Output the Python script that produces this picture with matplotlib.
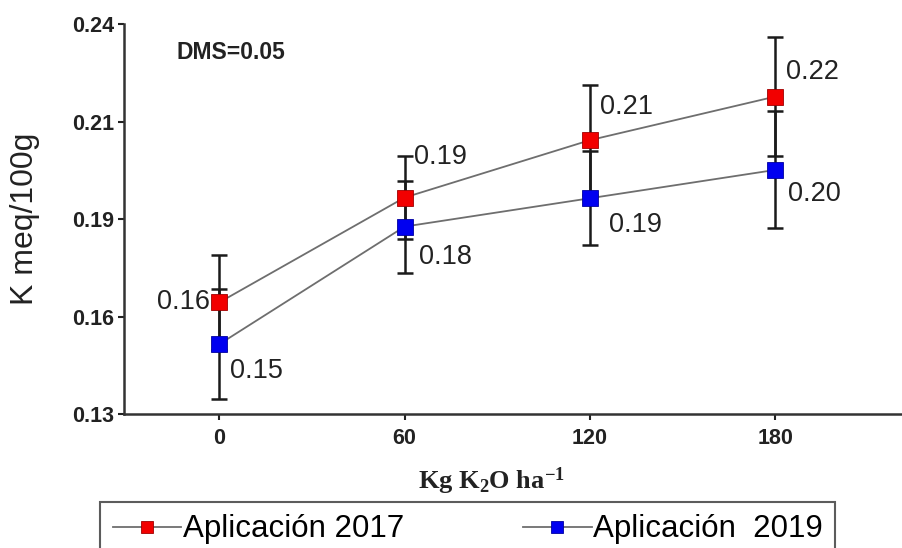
import matplotlib
matplotlib.use("Agg")
import matplotlib.pyplot as plt

# Dose of K2O (kg/ha) and soil potassium (meq/100 g) for each application year
doses = [0, 60, 120, 180]
k_2017 = [0.1615, 0.1911, 0.2073, 0.2196]
err_2017 = [0.0135, 0.0116, 0.0155, 0.0169]
k_2019 = [0.1497, 0.1829, 0.1909, 0.1989]
err_2019 = [0.0155, 0.0130, 0.0133, 0.0165]

series_labels = ["Aplicación 2017", "Aplicación  2019"]
y_ticks = [0.13, 0.1575, 0.185, 0.2125, 0.24]
y_tick_labels = ["0.13", "0.16", "0.19", "0.21", "0.24"]
x_ticks = [0, 60, 120, 180]

# label offsets (points) relative to each marker
off_2017 = [(-7, 0), (7, 29), (7, 24), (8, 18)]
ha_2017 = ["right", "left", "left", "left"]
off_2019 = [(8, -19), (10, -22), (14, -19), (9, -17)]

plt.rcParams["font.family"] = ["Liberation Sans", "DejaVu Sans"]
plt.rcParams["mathtext.fontset"] = "custom"
plt.rcParams["mathtext.rm"] = "Liberation Serif:bold"
plt.rcParams["mathtext.it"] = "Liberation Serif:bold"
plt.rcParams["mathtext.bf"] = "Liberation Serif:bold"

W, H = 902, 548
fig = plt.figure(figsize=(W / 100, H / 100), dpi=100)
ax = fig.add_axes([123.5 / W, 1 - 414 / H, (W - 123.5) / W, (414 - 24.3) / H])

line_col = "#6e6e6e"
red = "#f20000"
blue = "#0000f0"

for vals, errs in ((k_2017, err_2017), (k_2019, err_2019)):
    ax.errorbar(doses, vals, yerr=errs, fmt="none", ecolor="#1a1a1a",
                elinewidth=1.8, capsize=5.5, capthick=1.8, zorder=2)

h1, = ax.plot(doses, k_2017, "-", color=line_col, lw=1.3, marker="s", ms=11,
              mfc=red, mec="#a00000", mew=0.6, zorder=3, label=series_labels[0])
h2, = ax.plot(doses, k_2019, "-", color=line_col, lw=1.3, marker="s", ms=11,
              mfc=blue, mec="#0000a0", mew=0.6, zorder=3, label=series_labels[1])

for x, v, off, ha in zip(doses, k_2017, off_2017, ha_2017):
    ax.annotate(f"{v:.2f}", (x, v), xytext=off, textcoords="offset points",
                ha=ha, va="center", fontsize=19.5, color="#222222", zorder=4)
for x, v, off in zip(doses, k_2019, off_2019):
    ax.annotate(f"{v:.2f}", (x, v), xytext=off, textcoords="offset points",
                ha="left", va="center", fontsize=19.5, color="#222222", zorder=4)

ax.set_xlim(-31, 221)
ax.set_ylim(0.13, 0.24)
ax.set_yticks(y_ticks)
ax.set_yticklabels(y_tick_labels)
ax.set_xticks(x_ticks)
ax.set_xticklabels([str(t) for t in x_ticks])
for lab in ax.get_xticklabels() + ax.get_yticklabels():
    lab.set_fontweight("bold")
    lab.set_fontsize(15.5)
    lab.set_color("#222222")
ax.tick_params(axis="both", direction="out", length=4, width=1.5,
               color="#222222", pad=3)
ax.tick_params(axis="x", pad=6)

for side in ("top", "right"):
    ax.spines[side].set_visible(False)
for side in ("left", "bottom"):
    ax.spines[side].set_linewidth(1.8)
    ax.spines[side].set_color("#333333")

ax.set_ylabel("K meq/100g", fontsize=23, color="#222222")
ax.yaxis.set_label_coords(-(123.5 - 25) / (W - 123.5), 0.50)
ax.yaxis.label.set_va("center")

ax.set_xlabel(r"Kg K$_{2}$O ha$^{-1}$", fontsize=19, color="#222222",
              fontfamily="Liberation Serif", fontweight="bold", va="center")
ax.xaxis.set_label_coords((491 - 123.5) / (W - 123.5), -(481 - 414) / (414 - 24.3))

ax.text((177 - 123.5) / (W - 123.5), 1 - (52 - 24.3) / (414 - 24.3), "DMS=0.05",
        transform=ax.transAxes, fontsize=16.5, fontweight="bold", color="#222222",
        ha="left", va="center")

fig.legend(handles=[h1, h2], labels=series_labels, loc="upper left",
           bbox_to_anchor=(100 / W, 1 - 502 / H), ncol=2, fontsize=22.5,
           frameon=True, fancybox=False, edgecolor="#333333",
           borderpad=0.4, handlelength=2.2, handletextpad=0.05,
           columnspacing=3.8, markerscale=0.85, borderaxespad=0)
leg = fig.legends[0]
leg.get_frame().set_linewidth(1.5)

fig.savefig("out.png", dpi=100)
